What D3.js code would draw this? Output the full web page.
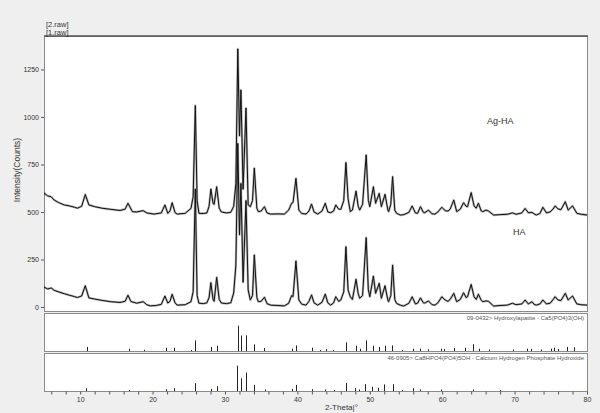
<!DOCTYPE html>
<html>
<head>
<meta charset="utf-8">
<script src="https://cdn.jsdelivr.net/npm/d3@7"></script>
<style>
  body { margin: 0; background: #efefef; }
  svg { display: block; font-family: "Liberation Sans", Arial, sans-serif; }
  .tick text { fill: #333; }
  .tick line { stroke: #555; }
</style>
</head>
<body>
<script>
// 1.raw (HA), [2-theta, counts]
var haScan = [
  [5.0,105],[5.5,95],[6.0,100],[6.4,88],[7.0,80],[7.8,70],[8.5,62],[9.2,55],[9.6,50],[10.2,58],[10.7,112],[11.2,48],
  [12,42],[13,35],[14.2,28],[15.5,24],[16.2,30],[16.6,62],[17.0,29],[17.8,20],[18.7,28],[19.2,12],[19.7,6],[20.5,8],
  [21.2,14],[21.7,58],[22.1,21],[22.4,30],[22.7,67],[23.1,22],[23.4,10],[24.5,12],[25.3,28],[25.6,80],[25.9,620],
  [26.15,60],[26.4,20],[27.0,18],[27.5,22],[27.8,50],[28.05,128],[28.35,40],[28.5,30],[28.85,156],[29.2,40],[29.5,21],
  [30.2,18],[30.8,22],[31.2,74],[31.5,220],[31.77,860],[32.0,380],[32.2,650],[32.5,130],[32.9,560],[33.2,90],[33.5,37],
  [33.8,60],[34.05,274],[34.4,50],[34.6,28],[35.0,30],[35.45,52],[35.8,18],[36.3,10],[37.3,8],[38.2,6],[38.8,20],
  [39.2,60],[39.4,55],[39.8,242],[40.2,37],[40.6,15],[41.2,10],[41.6,30],[41.95,64],[42.3,22],[42.8,10],[43.4,25],
  [43.85,68],[44.2,22],[44.6,10],[45.0,22],[45.3,54],[45.7,30],[46.0,37],[46.4,80],[46.7,317],[47.0,90],[47.3,54],
  [47.6,40],[48.1,146],[48.4,70],[48.6,46],[49.0,60],[49.5,365],[49.8,90],[50.0,54],[50.5,163],[50.8,72],[51.3,125],
  [51.6,46],[52.1,112],[52.5,35],[52.6,28],[52.9,60],[53.15,221],[53.45,40],[53.7,19],[54.2,10],[54.7,5],[55.4,20],
  [55.85,54],[56.3,16],[56.6,20],[57.0,48],[57.4,22],[57.6,21],[58.1,32],[58.6,12],[59.0,10],[59.4,22],[59.95,54],
  [60.4,37],[60.8,30],[61.1,40],[61.6,72],[62.0,28],[62.5,40],[62.95,75],[63.3,50],[63.5,54],[64.0,119],[64.4,54],
  [64.7,40],[65.0,67],[65.4,35],[65.6,28],[66.05,32],[66.4,30],[67.1,5],[68.0,8],[69.0,10],[69.7,20],[70.2,12],
  [71.0,16],[71.45,37],[71.9,16],[72.4,28],[72.7,14],[73.0,10],[73.5,16],[73.9,37],[74.4,16],[74.9,20],[75.3,38],
  [75.6,54],[76.0,37],[76.4,34],[77.0,72],[77.4,37],[78.0,58],[78.6,16],[79.2,12],[80,10]
];

// 2.raw (Ag-HA)
var agScan = [
  [5.0,600],[5.5,585],[6.0,580],[6.4,563],[7.0,550],[7.8,537],[8.5,532],[9.2,525],[9.6,520],[10.2,530],[10.7,592],
  [11.2,537],[12,528],[13,520],[14.2,514],[15.5,508],[16.2,515],[16.6,546],[17.2,502],[17.8,500],[18.7,507],[19.2,495],
  [20.2,489],[21.2,495],[21.7,537],[22.1,493],[22.4,505],[22.7,549],[23.1,497],[23.4,489],[24.5,493],[25.3,519],
  [25.6,580],[25.9,1060],[26.15,560],[26.4,493],[27.0,492],[27.5,495],[27.8,530],[28.05,621],[28.35,545],[28.5,540],
  [28.85,633],[29.2,520],[29.5,500],[30.2,495],[30.8,498],[31.2,530],[31.5,650],[31.77,1358],[32.0,900],[32.2,1142],
  [32.5,620],[32.9,1047],[33.2,537],[33.5,528],[33.8,560],[34.05,731],[34.4,520],[34.6,502],[35.0,505],[35.45,528],
  [35.8,495],[36.3,489],[37.3,490],[38.2,489],[38.8,510],[39.2,546],[39.4,550],[39.8,677],[40.2,510],[40.6,492],
  [41.2,489],[41.6,505],[41.95,542],[42.3,500],[42.8,489],[43.4,505],[43.85,546],[44.2,500],[44.6,496],[45.0,505],
  [45.3,537],[45.7,515],[46.0,514],[46.4,560],[46.7,760],[47.0,570],[47.3,502],[47.6,510],[48.1,610],[48.4,530],
  [48.6,510],[49.0,540],[49.5,800],[49.8,560],[50.0,528],[50.5,633],[50.8,546],[51.3,598],[51.6,528],[52.1,593],
  [52.5,510],[52.6,502],[52.9,540],[53.15,686],[53.45,510],[53.7,493],[54.2,484],[54.7,486],[55.4,498],[55.85,532],
  [56.3,495],[56.6,493],[57.0,528],[57.4,498],[57.6,496],[58.1,510],[58.6,490],[59.0,489],[59.4,500],[59.95,525],
  [60.4,507],[60.8,505],[61.1,515],[61.6,563],[62.0,502],[62.5,515],[62.95,549],[63.3,530],[63.5,528],[64.0,602],
  [64.4,532],[64.7,520],[65.0,546],[65.4,505],[65.6,502],[66.05,510],[66.4,505],[67.1,484],[68.0,486],[69.0,488],
  [69.7,495],[70.2,488],[71.0,495],[71.45,519],[71.9,496],[72.4,498],[72.7,490],[73.0,484],[73.5,492],[73.9,525],
  [74.4,495],[74.9,500],[75.3,515],[75.6,532],[76.0,516],[76.4,512],[77.0,554],[77.4,510],[78.0,532],[78.6,493],
  [79.2,488],[80,484]
];

// reference patterns, [2-theta, relative intensity]
var hapSticks = [
  [10.9,16],[16.8,9],[18.8,5],[21.8,13],[22.9,13],[25.3,4],[25.9,42],[28.1,16],[28.9,21],[31.77,100],[32.2,61],
  [32.9,62],[34.0,26],[35.4,12],[39.2,9],[39.8,22],[42.0,13],[43.1,4],[43.9,8],[44.9,4],[46.7,34],[48.1,21],
  [48.6,9],[49.5,42],[50.5,21],[51.3,16],[52.1,21],[53.1,22],[54.5,4],[55.9,9],[57.0,9],[58.1,7],[59.9,9],
  [60.3,8],[61.6,12],[63.1,13],[64.2,27],[65.1,9],[66.5,6],[69.8,6],[71.7,9],[72.3,8],[73.6,6],[75.0,9],
  [75.4,13],[76.0,8],[77.2,16],[78.2,14]
];
var cappSticks = [
  [10.8,11],[16.8,4],[21.9,7],[22.9,11],[25.9,31],[28.1,8],[28.9,19],[31.7,100],[32.2,50],[32.9,73],[34.0,24],
  [35.5,6],[39.2,8],[39.8,24],[42.0,7],[43.8,6],[45.0,4],[46.7,32],[48.0,11],[48.5,6],[49.4,27],[50.3,17],
  [51.2,13],[52.0,26],[53.2,27],[54.4,4],[55.9,11],[57.0,6],[59.9,6],[64.2,6],[68.0,4]
];

var yTicks = [0, 250, 500, 750, 1000, 1250];
var xTicks = d3.range(6, 81, 2);
var hapName = "09-0432> Hydroxylapatite - Ca5(PO4)3(OH)";
var cappName = "46-0905> Ca8HPO4(PO4)5OH - Calcium Hydrogen Phosphate Hydroxide";

var W = 600, H = 413;
var plotLeft = 44, plotRight = 587, plotTop = 36, mainBottom = 311;
var p2 = { top: 313, bottom: 351 }, p3 = { top: 353, bottom: 391 };

var svg = d3.select("body").append("svg")
  .attr("width", W)
  .attr("height", H);

svg.append("rect").attr("width", W).attr("height", H).attr("fill", "#efefef");

var x = d3.scaleLinear().domain([5, 80]).range([plotLeft, plotRight]);
var y = d3.scaleLinear().domain([-21, 1426]).range([mainBottom, plotTop]);
var y2 = d3.scaleLinear().domain([0, 150]).range([p2.bottom, p2.top]);
var y3 = d3.scaleLinear().domain([0, 150]).range([p3.bottom, p3.top]);

// panel backgrounds
[[plotTop, mainBottom], [p2.top, p2.bottom], [p3.top, p3.bottom]].forEach(function (p) {
  svg.append("rect")
    .attr("x", plotLeft + 0.5).attr("y", p[0] + 0.5)
    .attr("width", plotRight - plotLeft).attr("height", p[1] - p[0])
    .attr("fill", "#fff")
    .attr("stroke", "#8a8a8a")
    .attr("stroke-width", 1);
});

svg.append("clipPath").attr("id", "clip")
  .append("rect")
  .attr("x", plotLeft).attr("y", plotTop)
  .attr("width", plotRight - plotLeft).attr("height", mainBottom - plotTop);

var line = d3.line()
  .x(function (d) { return x(d[0]); })
  .y(function (d) { return y(d[1]); });

var traces = svg.append("g").attr("clip-path", "url(#clip)");

[haScan, agScan].forEach(function (scan) {
  traces.append("path")
    .datum(scan)
    .attr("fill", "none")
    .attr("stroke", "#000")
    .attr("stroke-opacity", 0.3)
    .attr("stroke-width", 2.3)
    .attr("stroke-linejoin", "round")
    .attr("d", line);
  traces.append("path")
    .datum(scan)
    .attr("fill", "none")
    .attr("stroke", "#111")
    .attr("stroke-width", 1)
    .attr("d", line);
});

// top border is darker
svg.append("line")
  .attr("x1", plotLeft).attr("x2", plotRight + 1)
  .attr("y1", plotTop).attr("y2", plotTop)
  .attr("stroke", "#555")
  .attr("stroke-width", 1.5);

svg.append("g")
  .attr("transform", "translate(" + plotLeft + ",0)")
  .call(d3.axisLeft(y).tickValues(yTicks).tickSize(3).tickPadding(2).tickFormat(d3.format("d")))
  .call(function (g) { g.select(".domain").remove(); })
  .selectAll("text").style("font-size", "7px");

svg.append("text")
  .attr("transform", "translate(20,170) rotate(-90)")
  .attr("text-anchor", "middle")
  .style("font-size", "8.5px")
  .attr("fill", "#333")
  .text("Intensity(Counts)");

svg.append("text").attr("x", 46).attr("y", 27).style("font-size", "7.5px").attr("fill", "#333").text("[2.raw]");
svg.append("text").attr("x", 46).attr("y", 35).style("font-size", "7.5px").attr("fill", "#333").text("[1.raw]");

svg.append("text").attr("x", 487).attr("y", 124).style("font-size", "9px").attr("fill", "#333").text("Ag-HA");
svg.append("text").attr("x", 513).attr("y", 235).style("font-size", "9px").attr("fill", "#333").text("HA");

// stick patterns
function sticks(data, ys, name) {
  svg.append("g").selectAll("line")
    .data(data)
    .enter().append("line")
    .attr("x1", function (d) { return Math.round(x(d[0])) + 0.5; })
    .attr("x2", function (d) { return Math.round(x(d[0])) + 0.5; })
    .attr("y1", ys(0))
    .attr("y2", function (d) { return ys(d[1]); })
    .attr("stroke", "#222")
    .attr("stroke-width", 1);
  svg.append("text")
    .attr("x", plotRight - 3)
    .attr("y", ys.range()[1] + 7)
    .attr("text-anchor", "end")
    .style("font-size", "6px")
    .attr("fill", "#555")
    .text(name);
}
sticks(hapSticks, y2, hapName);
sticks(cappSticks, y3, cappName);

svg.append("g")
  .attr("transform", "translate(0," + (p3.bottom + 0.5) + ")")
  .call(d3.axisBottom(x).tickValues(xTicks).tickSize(3).tickPadding(3)
    .tickFormat(function (d) { return d % 10 === 0 ? d : ""; }))
  .call(function (g) { g.select(".domain").remove(); })
  .selectAll("text").style("font-size", "7px");

svg.append("text")
  .attr("x", 325).attr("y", 410)
  .style("font-size", "8px")
  .attr("fill", "#333")
  .text("2-Theta|°");
</script>
</body>
</html>
